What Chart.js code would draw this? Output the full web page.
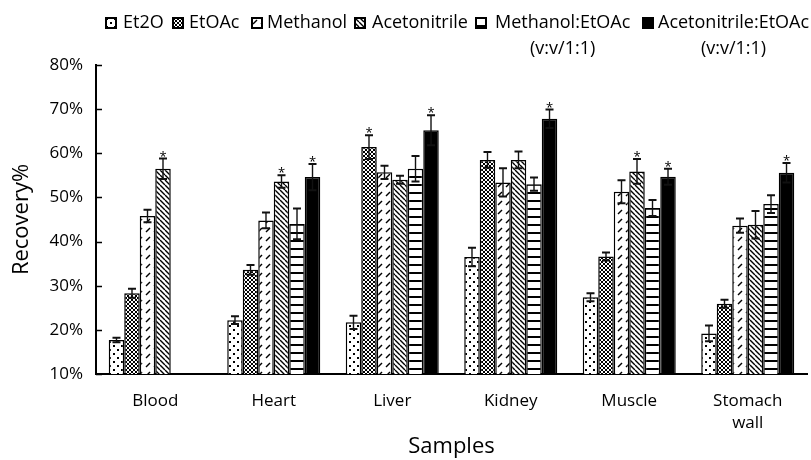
<!DOCTYPE html>
<html>
<head>
<meta charset="utf-8">
<script src="https://cdn.jsdelivr.net/npm/chart.js"></script>
<style>
  html, body { margin: 0; padding: 0; background: #fff; }
  #wrap { position: relative; width: 811px; height: 460px; }
  #legend { position: absolute; left: 0; top: 0; width: 811px; height: 60px;
    font-family: 'Open Sans', sans-serif; font-size: 18px; color: #000; }
  .item { position: absolute; top: 8px; line-height: 26px; white-space: nowrap; }
  .item canvas { position: absolute; left: 0; top: 9px; }
  .item span { position: absolute; top: 0; text-align: center; }
</style>
</head>
<body>
<div id="wrap">
  <canvas id="recovery" width="811" height="460"></canvas>
  <div id="legend"></div>
</div>
<script>
const categories = ['Blood', 'Heart', 'Liver', 'Kidney', 'Muscle', ['Stomach', 'wall']];
const seriesNames = ['Et2O', 'EtOAc', 'Methanol', 'Acetonitrile',
                     ['Methanol:EtOAc', '(v:v/1:1)'], ['Acetonitrile:EtOAc', '(v:v/1:1)']];

// recovery in %
const et2o         = [17.7, 22.2, 21.7, 36.5, 27.4, 19.2];
const etoac        = [28.3, 33.6, 61.4, 58.5, 36.6, 25.9];
const methanol     = [45.8, 44.8, 55.7, 53.4, 51.3, 43.6];
const acetonitrile = [56.5, 53.6, 54.0, 58.5, 55.9, 43.8];
const methEtoac    = [null, 44.0, 56.5, 53.0, 47.6, 48.5];
const acetEtoac    = [null, 54.6, 65.2, 67.8, 54.7, 55.6];

// error bars (+/-)
const errEt2o         = [0.5, 0.9, 1.5, 2.1, 0.9, 1.8];
const errEtoac        = [1.0, 1.1, 2.7, 1.8, 0.9, 0.9];
const errMethanol     = [1.4, 1.8, 1.5, 3.2, 2.6, 1.6];
const errAcetonitrile = [2.3, 1.4, 0.9, 1.9, 2.8, 3.1];
const errMethEtoac    = [null, 3.5, 2.9, 1.5, 1.8, 2.0];
const errAcetEtoac    = [null, 3.0, 3.4, 2.1, 1.8, 2.2];

// significance marks
const starEt2o         = [0, 0, 0, 0, 0, 0];
const starEtoac        = [0, 0, 1, 0, 0, 0];
const starMethanol     = [0, 0, 0, 0, 0, 0];
const starAcetonitrile = [1, 1, 0, 0, 1, 0];
const starMethEtoac    = [0, 0, 0, 0, 0, 0];
const starAcetEtoac    = [0, 1, 1, 1, 1, 1];

const yTicks = [10, 20, 30, 40, 50, 60, 70, 80];

// fill patterns
function tile(w, h, draw) {
  const c = document.createElement('canvas');
  c.width = w; c.height = h;
  const g = c.getContext('2d');
  g.fillStyle = '#fff';
  g.fillRect(0, 0, w, h);
  g.fillStyle = '#000';
  g.strokeStyle = '#000';
  draw(g, w, h);
  return c;
}
const tiles = [
  tile(8, 8, (g) => { g.fillRect(1, 1, 2, 2); g.fillRect(5, 5, 2, 2); }),
  tile(4, 4, (g) => {
    g.lineWidth = 1;
    g.beginPath();
    for (const o of [-4, 0, 4]) {
      g.moveTo(o, 0); g.lineTo(o + 4, 4);
      g.moveTo(o + 4, 0); g.lineTo(o, 4);
    }
    g.stroke();
  }),
  tile(8, 9, (g) => {
    g.lineWidth = 1.4;
    g.beginPath(); g.moveTo(2, 7); g.lineTo(6, 3); g.stroke();
  }),
  tile(5, 5, (g) => {
    g.lineWidth = 1.4;
    g.beginPath();
    for (const o of [-5, 0, 5]) { g.moveTo(o, 0); g.lineTo(o + 5, 5); }
    g.stroke();
  }),
  tile(4, 8, (g) => { g.fillRect(0, 0, 4, 2); }),
  tile(4, 4, (g) => { g.fillRect(0, 0, 4, 4); })
];

const ctx = document.getElementById('recovery');
const c2d = ctx.getContext('2d');
const patterns = tiles.map(t => c2d.createPattern(t, 'repeat'));

const values = [et2o, etoac, methanol, acetonitrile, methEtoac, acetEtoac];
const errors = [errEt2o, errEtoac, errMethanol, errAcetonitrile, errMethEtoac, errAcetEtoac];
const stars  = [starEt2o, starEtoac, starMethanol, starAcetonitrile, starMethEtoac, starAcetEtoac];

const datasets = values.map((v, i) => ({
  label: [].concat(seriesNames[i]).join(' '),
  data: v,
  errors: errors[i],
  stars: stars[i],
  backgroundColor: patterns[i],
  borderColor: '#000',
  borderWidth: 1.5,
  borderSkipped: false,
  categoryPercentage: 0.785,
  barPercentage: 1
}));

const errorBars = {
  id: 'errorBars',
  afterDatasetsDraw(chart) {
    const g = chart.ctx, y = chart.scales.y;
    g.save();
    g.strokeStyle = '#111';
    g.fillStyle = '#000';
    g.font = '13px "Open Sans"';
    g.textAlign = 'center';
    g.textBaseline = 'alphabetic';
    chart.data.datasets.forEach((ds, i) => {
      chart.getDatasetMeta(i).data.forEach((bar, j) => {
        const v = ds.data[j];
        if (v == null) return;
        const e = ds.errors[j];
        const top = y.getPixelForValue(v + e);
        const bot = y.getPixelForValue(v - e);
        g.lineWidth = 1.4;
        g.beginPath();
        g.moveTo(bar.x, top); g.lineTo(bar.x, bot);
        g.stroke();
        g.lineWidth = 2;
        g.beginPath();
        g.moveTo(bar.x - 4, top); g.lineTo(bar.x + 4, top);
        g.moveTo(bar.x - 4, bot); g.lineTo(bar.x + 4, bot);
        g.stroke();
        if (ds.stars[j]) g.fillText('*', bar.x, top + 2);
      });
    });
    g.restore();
  }
};

// short tick marks pointing into the plot
const innerTicks = {
  id: 'innerTicks',
  afterDraw(chart) {
    const g = chart.ctx, y = chart.scales.y, left = chart.chartArea.left;
    g.save();
    g.strokeStyle = '#000';
    g.lineWidth = 1.5;
    g.beginPath();
    y.ticks.forEach((t, k) => {
      const py = Math.round(y.getPixelForTick(k)) + 0.5;
      g.moveTo(left, py); g.lineTo(left + 6, py);
    });
    g.stroke();
    g.restore();
  }
};

Chart.defaults.color = '#000';
Chart.defaults.font.family = '"Open Sans", sans-serif';

new Chart(ctx, {
  type: 'bar',
  data: { labels: categories, datasets: datasets },
  options: {
    responsive: false,
    animation: false,
    layout: { padding: { top: 65, right: 4, left: 0, bottom: 0 } },
    plugins: {
      legend: { display: false },
      tooltip: { enabled: false }
    },
    scales: {
      x: {
        grid: { display: false, drawTicks: false },
        border: { display: true, color: '#000', width: 2 },
        ticks: { font: { size: 17, lineHeight: 1.3 }, padding: 16, maxRotation: 0, autoSkip: false },
        title: { display: true, text: 'Samples', font: { size: 22 }, padding: { top: 0, bottom: 0 } },
        afterFit(scale) { scale.height = 86; }
      },
      y: {
        min: yTicks[0],
        max: yTicks[yTicks.length - 1],
        afterBuildTicks(scale) { scale.ticks = yTicks.map(v => ({ value: v })); },
        grid: { display: false, drawTicks: false },
        border: { display: true, color: '#000', width: 2 },
        ticks: { font: { size: 17 }, padding: 13, callback: v => v + '%' },
        title: { display: true, text: 'Recovery%', font: { size: 22 }, padding: { top: 9, bottom: 0 } },
        afterFit(scale) { scale.width = 96; }
      }
    }
  },
  plugins: [errorBars, innerTicks]
});

// legend drawn as html, swatches use the same tiles
const boxLeft  = [105, 172, 251, 354, 475, 642];
const textLeft = [123, 189, 267, 372, 495, 658];
const legend = document.getElementById('legend');
seriesNames.forEach((name, i) => {
  const item = document.createElement('div');
  item.className = 'item';
  item.style.left = boxLeft[i] + 'px';
  const sw = document.createElement('canvas');
  sw.width = 12; sw.height = 12;
  const sg = sw.getContext('2d');
  sg.fillStyle = sg.createPattern(tiles[i], 'repeat');
  sg.fillRect(0, 0, 12, 12);
  sg.strokeStyle = '#000';
  sg.lineWidth = 2;
  sg.strokeRect(1, 1, 10, 10);
  item.appendChild(sw);
  const txt = document.createElement('span');
  txt.style.left = (textLeft[i] - boxLeft[i]) + 'px';
  txt.innerHTML = [].concat(name).join('<br>');
  item.appendChild(txt);
  legend.appendChild(item);
});
</script>
</body>
</html>
